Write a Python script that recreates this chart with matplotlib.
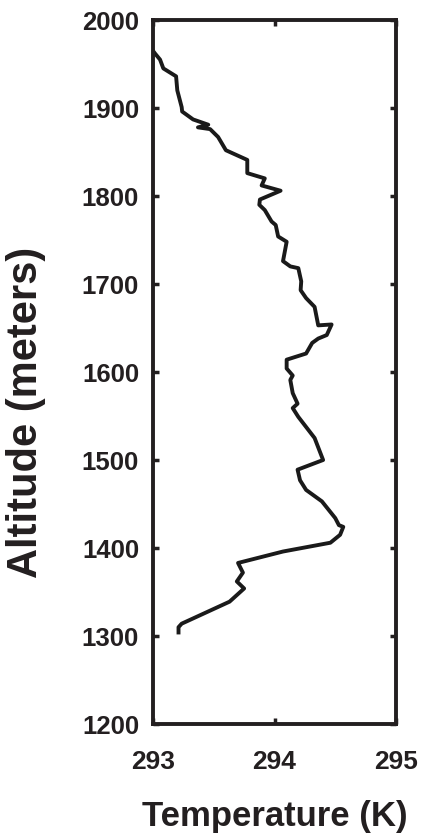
import matplotlib
matplotlib.use("Agg")
import matplotlib.pyplot as plt

# temperature profile (K, m)
temperature = [293.0, 293.016, 293.058, 293.085, 293.19, 293.2, 293.236, 293.24, 293.33,
               293.455, 293.37, 293.47, 293.536, 293.6, 293.776, 293.776, 293.92, 293.894,
               294.05, 293.88, 293.875, 293.92, 293.976, 294.01, 294.03, 294.1, 294.07,
               294.13, 294.196, 294.22, 294.215, 294.26, 294.33, 294.36, 294.47, 294.43,
               294.36, 294.31, 294.26, 294.1, 294.1, 294.15, 294.13, 294.15, 294.19,
               294.15, 294.196, 294.33, 294.4, 294.19, 294.21, 294.26, 294.39, 294.5,
               294.53, 294.566, 294.54, 294.46, 294.07, 293.70, 293.74, 293.69, 293.75,
               293.63, 293.236, 293.21, 293.21]
altitude = [1965, 1962, 1955, 1945, 1936, 1920, 1901, 1896, 1887,
            1881, 1878, 1876, 1867, 1852, 1841, 1826, 1820, 1812,
            1806, 1796, 1790, 1784, 1771, 1767, 1754, 1748, 1726,
            1720, 1718, 1703, 1693, 1684, 1674, 1653, 1654, 1642,
            1638, 1633, 1621, 1614, 1604, 1596, 1591, 1576, 1564,
            1559, 1549, 1525, 1500, 1489, 1477, 1466, 1453, 1434,
            1426, 1424, 1415, 1406, 1396, 1383, 1372, 1362, 1354,
            1339, 1314, 1310, 1304]

x_ticks = [293, 294, 295]
y_ticks = [1200, 1300, 1400, 1500, 1600, 1700, 1800, 1900, 2000]

plt.rcParams['font.family'] = ['Liberation Sans', 'DejaVu Sans']
plt.rcParams['font.weight'] = 'bold'

fig = plt.figure(figsize=(4.21, 8.4), dpi=100)
ax = fig.add_axes([153/421, 1-724/840, 243/421, 704/840])

ax.plot(temperature, altitude, color='#1a1a1a', lw=2.8)

ax.set_xlim(293, 295)
ax.set_ylim(1200, 2000)
ax.set_xticks(x_ticks)
ax.set_yticks(y_ticks)
ax.set_xticklabels([str(t) for t in x_ticks], fontsize=19, fontweight='bold', color='#231f20')
ax.set_yticklabels([str(t) for t in y_ticks], fontsize=18.5, fontweight='bold', color='#231f20')
ax.tick_params(axis='both', direction='in', length=4, width=2.5,
               top=True, right=True, color='#231f20')
ax.tick_params(axis='x', pad=19)
ax.tick_params(axis='y', pad=10)
for s in ax.spines.values():
    s.set_linewidth(2.8)
    s.set_color('#231f20')

ax.set_xlabel("Temperature (K)", fontsize=25, fontweight='bold', color='#231f20')
ax.set_ylabel("Altitude (meters)", fontsize=30, fontweight='bold', color='#231f20')
ax.xaxis.set_label_coords(0.5, -0.108)
ax.yaxis.set_label_coords(-0.44, 0.442)

fig.savefig("out.png", dpi=100)
